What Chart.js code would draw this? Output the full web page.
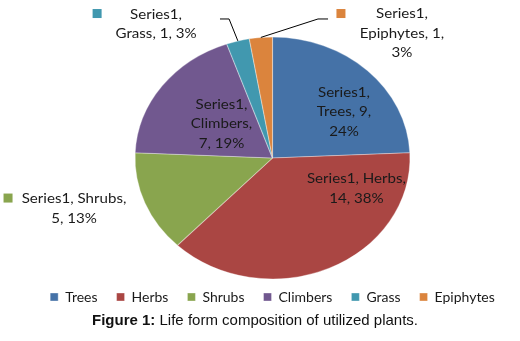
<!DOCTYPE html>
<html>

<head>
    <title>Life form composition</title>
    <style>
        body {
            margin: 0;
            background: white;
        }

        .wrap {
            position: relative;
            width: 520px;
            height: 341px;
        }

        .legenda {
            position: absolute;
            left: 0;
            top: 311px;
            width: 510px;
            text-align: center;
            font-family: "Liberation Sans", Arial, sans-serif;
            font-size: 15px;
            color: #111;
        }
    </style>
</head>

<body>
    <div class="wrap">
        <canvas id="grafico" width="520" height="314"></canvas>
        <div class="legenda"><b>Figure 1:</b> Life form composition of utilized plants.</div>
    </div>

    <script src="https://cdn.jsdelivr.net/npm/chart.js"></script>
    <script>
        // dados do grafico
        const categorias = ['Trees', 'Herbs', 'Shrubs', 'Climbers', 'Grass', 'Epiphytes'];
        const valores = [9, 14, 5, 7, 1, 1];
        const porcentagens = [24, 38, 13, 19, 3, 3];
        const nomeSerie = 'Series1';
        const cores = ['#4572A7', '#AA4643', '#89A54E', '#71588F', '#4198AF', '#DB843D'];

        // quebra de linha de cada rotulo (quantos pedacos por linha)
        const quebras = [[1, 2, 1], [2, 2], [2, 2], [1, 1, 2], [1, 3], [1, 2, 1]];
        // posicao do rotulo relativa ao centro (em raios)
        const posRotulos = [[0.52, -0.38], [0.611, 0.252], [-1.444, 0.421], [-0.371, -0.281], [-0.847, -1.107], [0.942, -1.029]];
        // quadradinho de legenda para rotulos externos
        const posChaves = [null, null, [-1.924, 0.331], null, [-1.276, -1.194], [0.498, -1.194]];
        // linhas guia: ponto inicial e cotovelo
        const guias = [null, null, null, null, [[-0.382, -1.149], [-0.316, -1.149]], [[0.404, -1.149], [0.331, -1.149]]];

        const ESTICA = 1.136; // a figura original e esticada na horizontal
        const ALTURA_LINHA = 19.5;

        function linhasDoRotulo(i) {
            const pedacos = [nomeSerie, categorias[i], String(valores[i]), porcentagens[i] + '%'];
            const linhas = [];
            let k = 0;
            quebras[i].forEach(function (n, j) {
                let t = pedacos.slice(k, k + n).join(', ');
                k += n;
                if (j < quebras[i].length - 1) t += ',';
                linhas.push(t);
            });
            return linhas;
        }

        const pluginPizza = {
            id: 'pizza',
            beforeDatasetsDraw(chart) {
                const a = chart.getDatasetMeta(0).data[0];
                const ctx = chart.ctx;
                ctx.save();
                ctx.translate(a.x, a.y);
                ctx.scale(ESTICA, 1);
                ctx.translate(-a.x, -a.y);
            },
            afterDatasetsDraw(chart) {
                const ctx = chart.ctx;
                ctx.restore();
                const arcos = chart.getDatasetMeta(0).data;
                const cx = arcos[0].x, cy = arcos[0].y, r = arcos[0].outerRadius;
                const rx = r * ESTICA;
                ctx.save();
                ctx.font = '13.3px Lato';
                ctx.fillStyle = '#1a1a1a';
                ctx.textAlign = 'center';
                ctx.textBaseline = 'middle';
                for (let i = 0; i < arcos.length; i++) {
                    const linhas = linhasDoRotulo(i);
                    const px = cx + posRotulos[i][0] * rx;
                    const py = cy + posRotulos[i][1] * r;
                    linhas.forEach(function (t, k) {
                        ctx.save();
                        ctx.translate(px, py + (k - (linhas.length - 1) / 2) * ALTURA_LINHA);
                        ctx.scale(ESTICA, 1);
                        ctx.fillText(t, 0, 0);
                        ctx.restore();
                    });
                    if (posChaves[i]) {
                        ctx.fillStyle = cores[i];
                        ctx.fillRect(cx + posChaves[i][0] * rx - 4.5, cy + posChaves[i][1] * r - 4.5, 9, 9);
                        ctx.fillStyle = '#1a1a1a';
                    }
                    if (guias[i]) {
                        const a = arcos[i];
                        const meio = (a.startAngle + a.endAngle) / 2;
                        ctx.beginPath();
                        ctx.strokeStyle = '#000';
                        ctx.lineWidth = 1;
                        ctx.moveTo(cx + guias[i][0][0] * rx, cy + guias[i][0][1] * r);
                        ctx.lineTo(cx + guias[i][1][0] * rx, cy + guias[i][1][1] * r);
                        ctx.lineTo(cx + Math.cos(meio) * rx, cy + Math.sin(meio) * r);
                        ctx.stroke();
                    }
                }
                ctx.restore();
            }
        };

        const ctxGrafico = document.getElementById('grafico').getContext('2d');

        const grafico = new Chart(ctxGrafico, {
            type: 'pie',
            data: {
                labels: categorias,
                datasets: [{
                    label: nomeSerie,
                    data: valores,
                    backgroundColor: cores,
                    borderColor: 'rgba(255,255,255,0.35)',
                    borderWidth: 1,
                    radius: 121
                }]
            },
            options: {
                responsive: false,
                animation: false,
                layout: {
                    padding: { top: 45, left: 25, right: 0, bottom: 0 }
                },
                plugins: {
                    tooltip: { enabled: false },
                    legend: {
                        position: 'bottom',
                        labels: {
                            boxWidth: 8,
                            boxHeight: 8,
                            padding: 19,
                            color: '#1a1a1a',
                            font: { family: 'Lato', size: 14 }
                        }
                    }
                }
            },
            plugins: [pluginPizza]
        });
    </script>
</body>

</html>
